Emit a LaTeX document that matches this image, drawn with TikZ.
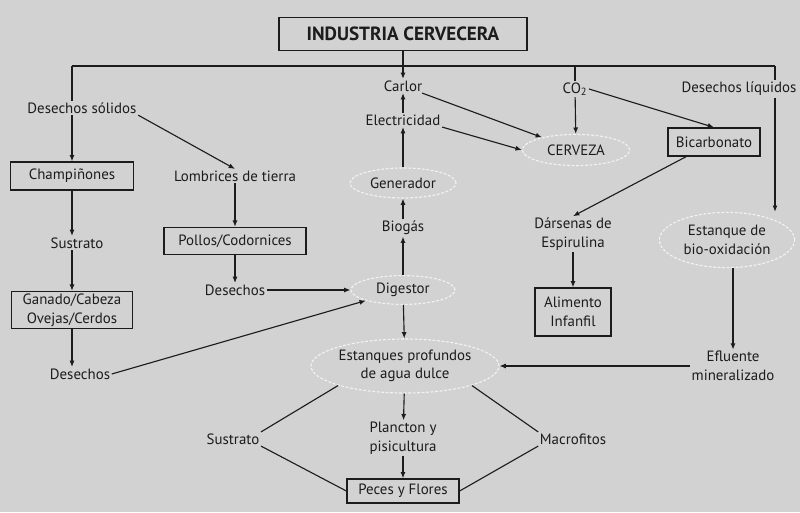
\documentclass[tikz,border=0pt]{standalone}
\usepackage{fontspec}
\setmainfont{PT Sans}
\usetikzlibrary{arrows.meta}
\usetikzlibrary{shapes.geometric}

\definecolor{paper}{RGB}{210,210,210}
\definecolor{ink}{RGB}{28,28,28}
\definecolor{chalk}{RGB}{243,243,243}

\tikzset{
  txt/.style={text=ink, align=center, inner sep=1pt, font=\fontsize{10.6}{13.2}\selectfont},
  box/.style={txt, draw=ink, line width=0.9pt},
  oval/.style={txt, ellipse, inner sep=0pt, draw=chalk, line width=0.8pt, dash pattern=on 2pt off 1.2pt},
  arr/.style={draw=ink, line width=0.8pt, -{Latex[length=4.5pt,width=3.6pt]}},
  wire/.style={draw=ink, line width=0.8pt},
}

\begin{document}
\begin{tikzpicture}[x=0.025cm, y=-0.025cm]

%% Background %%
\fill[paper] (0,0) rectangle (800,512);

%% Title and bus %%
\node[box, font=\bfseries\fontsize{13.6}{15}\selectfont, minimum width=6.2cm, minimum height=0.82cm] (title) at (403,34) {INDUSTRIA CERVECERA};
\coordinate (busL) at (72,66);
\coordinate (busC) at (575,66);
\coordinate (busR) at (775,66);

%% Nodes %%
% left column %
\node[txt] (dsol) at (82,108) {Desechos sólidos};
\node[box, minimum width=3.07cm, minimum height=0.7cm] (champ) at (72,176) {Champiñones};
\node[txt] (sus1) at (77,243) {Sustrato};
\node[box, minimum width=3.03cm, minimum height=0.93cm] (ganado) at (72,310) {Ganado/Cabeza\\Ovejas/Cerdos};
\node[txt] (des1) at (80,374) {Desechos};

% second column %
\node[txt] (lomb) at (235,176) {Lombrices de tierra};
\node[box, minimum width=3.55cm, minimum height=0.68cm] (pollos) at (235,241) {Pollos/Codornices};
\node[txt] (des2) at (235,290) {Desechos};

% centre column %
\node[txt] (carlor) at (403,86) {Carlor};
\node[txt] (elec) at (403,120) {Electricidad};
\node[oval, minimum width=2.65cm, minimum height=0.75cm] (gen) at (403,183) {Generador};
\node[txt] (biogas) at (403,228) {Biogás};
\node[oval, minimum width=2.6cm, minimum height=0.72cm] (dig) at (403,290) {Digestor};
\node[oval, minimum width=4.15cm, minimum height=1.35cm] (est) at (405,366) {Estanques profundos\\de agua dulce};
\node[txt] (planc) at (403,438) {Plancton y\\pisicultura};
\node[box, minimum width=2.8cm, minimum height=0.6cm] (peces) at (403,491) {Peces y Flores};
\node[txt] (sus2) at (233,439) {Sustrato};
\node[txt] (macro) at (573,439) {Macrofitos};

% right columns %
\node[txt] (co2) at (575,89) {CO\textsubscript{2}};
\node[oval, minimum width=2.68cm, minimum height=0.78cm] (cerv) at (576,150) {CERVEZA};
\node[box, minimum width=2.3cm, minimum height=0.7cm] (bicarb) at (714,142) {Bicarbonato};
\node[txt] (dars) at (573,234) {Dársenas de\\Espirulina};
\node[box, minimum width=1.9cm, minimum height=1.2cm] (alim) at (573,312) {Alimento\\Infanfil};
\node[txt] (dliq) at (739,89) {Desechos líquidos};
\node[oval, minimum width=3.38cm, minimum height=1.38cm] (biox) at (727,240) {Estanque de\\bio-oxidación};
\node[txt] (eflu) at (733,366) {Efluente\\mineralizado};

%% Connectors %%
% bus %
\draw[wire] (busL) -- (busR);
\draw[wire] (busL) -- (busL |- dsol.north);
\draw[arr] (title) -- (carlor);
\draw[wire] (busC) -- (co2);
\draw[wire] (busR) -- (busR |- dliq.north);
\draw[arr] (busR |- dliq.south) -- (busR |- biox.north);

% left %
\draw[arr] (busL |- dsol.south) -- (champ.north);
\draw[arr] (champ.south) -- (champ.south |- sus1.north);
\draw[arr] (champ.south |- sus1.south) -- (ganado.north);
\draw[arr] (ganado.south) -- (ganado.south |- des1.north);
\draw[arr] (dsol.south east) -- (lomb.north);
\draw[arr] (lomb) -- (pollos);
\draw[arr] (pollos) -- (des2);
\draw[arr] (des2) -- (dig);
\draw[arr] (des1.east) -- (dig.south west);

% centre %
\draw[arr] (elec) -- (carlor);
\draw[arr] (gen) -- (elec);
\draw[arr] (biogas) -- (gen);
\draw[arr] (dig) -- (biogas);
\draw[arr] (dig) -- (est);
\draw[arr] (est) -- (planc);
\draw[arr] (planc) -- (peces);
\draw[wire] (est.south west) -- (sus2.north east);
\draw[wire] (sus2.south east) -- (peces.west);
\draw[wire] (est.south east) -- (macro.north west);
\draw[wire] (macro.south west) -- (peces.east);

% right %
\draw[arr] (carlor) -- (cerv);
\draw[arr] (elec.south east) -- (cerv.west);
\draw[arr] (co2) -- (cerv);
\draw[arr] (co2.east) -- (bicarb.north);
\draw[arr] (bicarb) -- (dars.north);
\draw[arr] (dars) -- (alim);
\draw[arr] (biox.south -| eflu) -- (eflu);
\draw[arr] (eflu) -- (est);

\end{tikzpicture}
\end{document}
